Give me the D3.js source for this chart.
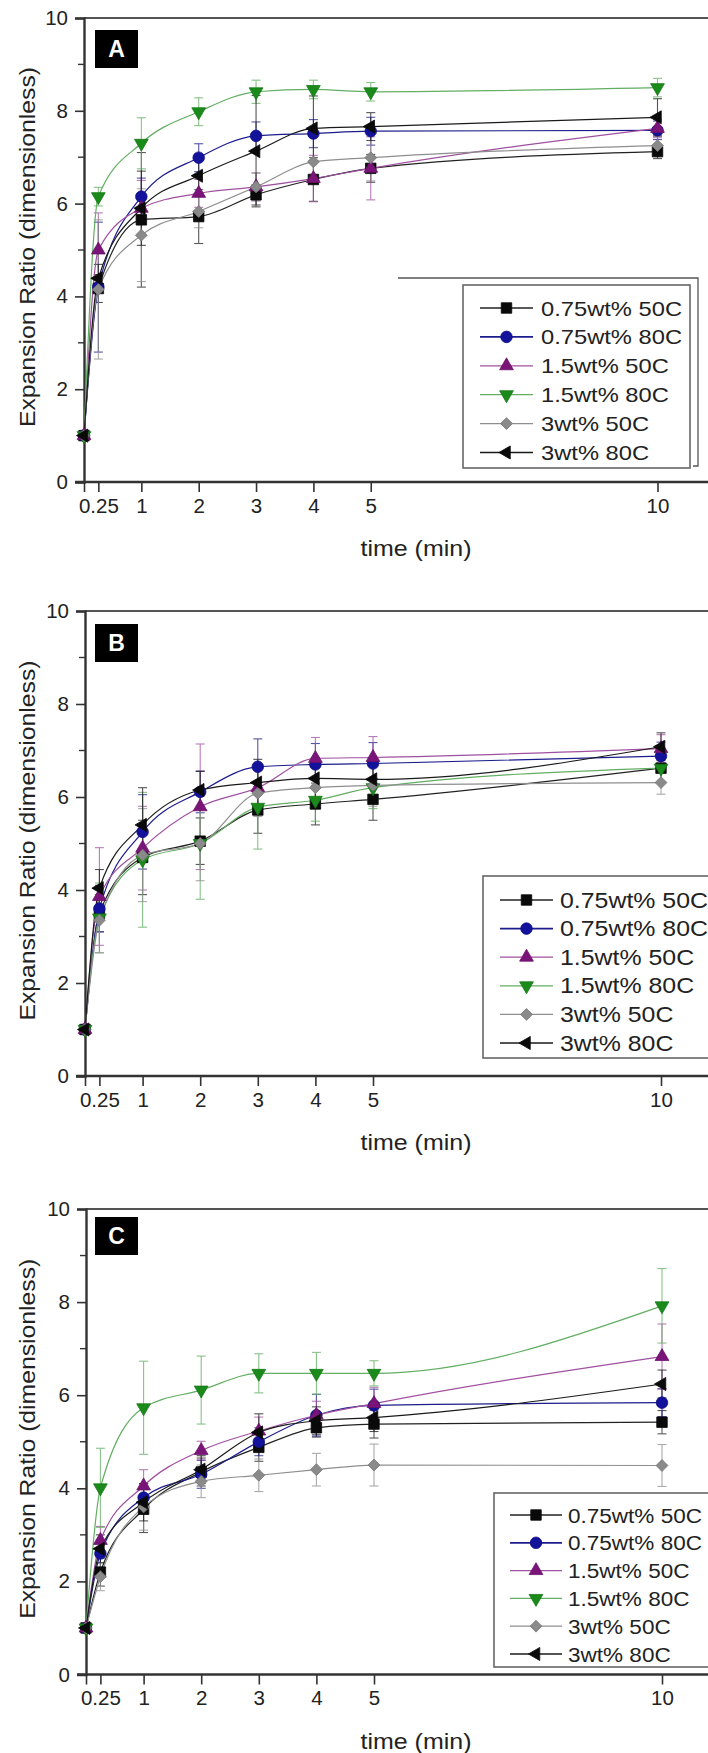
<!DOCTYPE html>
<html>
<head>
<meta charset="utf-8">
<script src="https://cdn.jsdelivr.net/npm/d3@7"></script>
<style>
  html, body { margin: 0; padding: 0; background: #fff; }
  svg { display: block; }
  text { font-family: "Liberation Sans", Arial, sans-serif; fill: #222; }
</style>
</head>
<body>
<svg id="fig" width="708" height="1753"></svg>
<script>
// ---- shared axes / labels ----
const times = [0, 0.25, 1, 2, 3, 4, 5, 10];
const seriesNames = ["0.75wt% 50C", "0.75wt% 80C", "1.5wt% 50C", "1.5wt% 80C", "3wt% 50C", "3wt% 80C"];
const xTickValues = [0, 0.25, 1, 2, 3, 4, 5, 10];
const xTickLabels = ["", "0.25", "1", "2", "3", "4", "5", "10"];
const yTickValues = [0, 2, 4, 6, 8, 10];
const yTickLabels = ["0", "2", "4", "6", "8", "10"];
const yMinorValues = [1, 3, 5, 7, 9];
const panelLetters = ["A", "B", "C"];
const xTitle = "time (min)";
const yTitle = "Expansion Ratio (dimensionless)";

// ---- panel A: mean expansion ratio and error ----
const A_075_50 = [1, 4.17, 5.65, 5.72, 6.19, 6.52, 6.76, 7.12];
const A_075_80 = [1, 4.2, 6.15, 6.99, 7.46, 7.51, 7.56, 7.58];
const A_15_50  = [1, 5.0, 5.9, 6.22, 6.36, 6.54, 6.76, 7.62];
const A_15_80  = [1, 6.15, 7.3, 7.98, 8.41, 8.46, 8.41, 8.5];
const A_3_50   = [1, 4.15, 5.32, 5.83, 6.36, 6.9, 6.99, 7.25];
const A_3_80   = [1, 4.39, 5.9, 6.6, 7.13, 7.62, 7.66, 7.86];
const A_075_50_err = [0, 0.3, 1.45, 0.58, 0.22, 0.47, 0.3, 0.15];
const A_075_80_err = [0, 1.4, 0.4, 0.3, 0.3, 0.3, 0.3, 0.2];
const A_15_50_err  = [0, 0.8, 0.6, 0.3, 0.3, 0.5, 0.68, 0.2];
const A_15_80_err  = [0, 0.2, 0.55, 0.3, 0.25, 0.2, 0.2, 0.2];
const A_3_50_err   = [0, 1.5, 1.0, 0.35, 0.3, 0.3, 0.5, 0.2];
const A_3_80_err   = [0, 0.3, 0.8, 0.4, 1.2, 0.7, 0.3, 0.4];

// ---- panel B ----
const B_075_50 = [1, 3.5, 4.7, 5.05, 5.72, 5.85, 5.95, 6.62];
const B_075_80 = [1, 3.6, 5.25, 6.11, 6.65, 6.7, 6.72, 6.88];
const B_15_50  = [1, 3.86, 4.9, 5.79, 6.2, 6.83, 6.85, 7.04];
const B_15_80  = [1, 3.4, 4.65, 5.0, 5.78, 5.93, 6.2, 6.62];
const B_3_50   = [1, 3.35, 4.75, 5.0, 6.08, 6.2, 6.25, 6.31];
const B_3_80   = [1, 4.04, 5.4, 6.15, 6.31, 6.4, 6.38, 7.08];
const B_075_50_err = [0, 0.4, 0.8, 0.5, 0.5, 0.45, 0.45, 0.3];
const B_075_80_err = [0, 0.5, 0.8, 0.45, 0.6, 0.45, 0.45, 0.3];
const B_15_50_err  = [0, 1.05, 0.9, 1.35, 0.5, 0.45, 0.45, 0.3];
const B_15_80_err  = [0, 0.75, 1.45, 1.2, 0.9, 0.45, 0.45, 0.3];
const B_3_50_err   = [0, 0.7, 1.0, 0.8, 0.5, 0.45, 0.45, 0.25];
const B_3_80_err   = [0, 0.4, 0.8, 0.4, 0.5, 0.45, 0.45, 0.3];

// ---- panel C ----
const C_075_50 = [1, 2.2, 3.55, 4.35, 4.88, 5.3, 5.38, 5.42];
const C_075_80 = [1, 2.6, 3.8, 4.3, 5.0, 5.57, 5.78, 5.84];
const C_15_50  = [1, 2.88, 4.05, 4.81, 5.23, 5.57, 5.82, 6.83];
const C_15_80  = [1, 4.01, 5.73, 6.11, 6.47, 6.47, 6.47, 7.92];
const C_3_50   = [1, 2.1, 3.6, 4.15, 4.28, 4.4, 4.5, 4.49];
const C_3_80   = [1, 2.7, 3.7, 4.4, 5.2, 5.45, 5.52, 6.24];
const C_075_50_err = [0, 0.3, 0.5, 0.3, 0.3, 0.2, 0.3, 0.25];
const C_075_80_err = [0, 0.3, 0.3, 0.3, 0.3, 0.45, 0.35, 0.3];
const C_15_50_err  = [0, 0.3, 0.35, 0.2, 0.3, 0.3, 0.35, 0.7];
const C_15_80_err  = [0, 0.85, 1.0, 0.73, 0.42, 0.45, 0.27, 0.8];
const C_3_50_err   = [0, 0.3, 0.5, 0.35, 0.35, 0.35, 0.45, 0.45];
const C_3_80_err   = [0, 0.3, 0.4, 0.3, 0.4, 0.3, 0.3, 0.3];

// ---- series styling (legend order) ----
const markerShapes = ["square", "circle", "up", "down", "diamond", "left"];
const markerColors = ["#0a0a0a", "#12129a", "#7a1478", "#1a8a1a", "#8a8a8a", "#0a0a0a"];
const lineColors   = ["#222222", "#1c1c8c", "#a050a0", "#62ae62", "#8e8e8e", "#1a1a1a"];

const panelValues = [
  [A_075_50, A_075_80, A_15_50, A_15_80, A_3_50, A_3_80],
  [B_075_50, B_075_80, B_15_50, B_15_80, B_3_50, B_3_80],
  [C_075_50, C_075_80, C_15_50, C_15_80, C_3_50, C_3_80]
];
const panelErrors = [
  [A_075_50_err, A_075_80_err, A_15_50_err, A_15_80_err, A_3_50_err, A_3_80_err],
  [B_075_50_err, B_075_80_err, B_15_50_err, B_15_80_err, B_3_50_err, B_3_80_err],
  [C_075_50_err, C_075_80_err, C_15_50_err, C_15_80_err, C_3_50_err, C_3_80_err]
];

// ---- panel geometry ----
const layout = [
  { left: 84, top: 18,   bottom: 482,    unit: 57.35, box: [95, 30],
    legend: { x: 463, y: 285, w: 227, h: 183, row0: 308, dy: 28.9, lx0: 480, lx1: 533, tx: 541, fs: 21, tw: 141 },
    outerFrame: true },
  { left: 85, top: 611,  bottom: 1076,   unit: 57.6, box: [95, 624],
    legend: { x: 483, y: 876, w: 240, h: 182, row0: 900, dy: 28.6, lx0: 500, lx1: 553, tx: 560, fs: 21.5, tw: 148 } },
  { left: 86, top: 1209, bottom: 1674.5, unit: 57.6, box: [95, 1217],
    legend: { x: 494, y: 1493, w: 230, h: 174, row0: 1515, dy: 27.8, lx0: 510, lx1: 562, tx: 568, fs: 20.5, tw: 134 } }
];

const svg = d3.select("#fig");
svg.append("rect").attr("width", 708).attr("height", 1753).attr("fill", "#fff");

function markerPath(shape) {
  switch (shape) {
    case "square":  return { d: d3.symbol(d3.symbolSquare, 110)(), rot: 0 };
    case "circle":  return { d: d3.symbol(d3.symbolCircle, 105)(), rot: 0 };
    case "up":      return { d: d3.symbol(d3.symbolTriangle, 82)(), rot: 0 };
    case "down":    return { d: d3.symbol(d3.symbolTriangle, 82)(), rot: 180 };
    case "diamond": return { d: d3.symbol(d3.symbolSquare, 70)(), rot: 45 };
    case "left":    return { d: d3.symbol(d3.symbolTriangle, 74)(), rot: -90 };
  }
}

function drawMarker(g, shape, cx, cy, color) {
  const m = markerPath(shape);
  g.append("path")
    .attr("d", m.d)
    .attr("transform", `translate(${cx},${cy}) rotate(${m.rot})`)
    .attr("fill", color)
    .attr("stroke", d3.color(color).darker(0.4))
    .attr("stroke-width", 0.8);
}

layout.forEach((L, p) => {
  const g = svg.append("g");
  const x = d3.scaleLinear().domain([0, 1]).range([L.left, L.left + L.unit]);
  const y = d3.scaleLinear().domain([0, 10]).range([L.bottom, L.top]);

  // frame: top edge and the axes
  g.append("line").attr("x1", L.left).attr("x2", 708).attr("y1", L.top).attr("y2", L.top)
    .attr("stroke", "#555").attr("stroke-width", 2);

  // y axis
  const yAxis = d3.axisLeft(y).tickValues(yTickValues)
    .tickFormat((d, i) => yTickLabels[i]).tickSize(9).tickPadding(7);
  const yg = g.append("g").attr("transform", `translate(${L.left},0)`).call(yAxis);
  yg.select(".domain").attr("stroke", "#333").attr("stroke-width", 2.4);
  yg.selectAll(".tick line").attr("stroke", "#333").attr("stroke-width", 1.6);
  yg.selectAll(".tick text").attr("font-size", 20.5).attr("fill", "#222")
    .attr("font-family", "'Liberation Sans', Arial, sans-serif");
  g.append("g").selectAll("line").data(yMinorValues).join("line")
    .attr("x1", L.left - 6).attr("x2", L.left).attr("y1", d => y(d)).attr("y2", d => y(d))
    .attr("stroke", "#333").attr("stroke-width", 1.4);

  // x axis
  const xAxis = d3.axisBottom(x).tickValues(xTickValues)
    .tickFormat((d, i) => xTickLabels[i]).tickSize(10).tickPadding(6);
  const xg = g.append("g").attr("transform", `translate(0,${L.bottom})`).call(xAxis);
  xg.select(".domain").remove();
  xg.selectAll(".tick line").attr("stroke", "#333").attr("stroke-width", 1.6);
  xg.selectAll(".tick text").attr("font-size", 20.5).attr("fill", "#222")
    .attr("font-family", "'Liberation Sans', Arial, sans-serif");
  g.append("line").attr("x1", L.left - 9).attr("x2", 708).attr("y1", L.bottom).attr("y2", L.bottom)
    .attr("stroke", "#333").attr("stroke-width", 2.4);

  // axis titles
  g.append("text").text(xTitle)
    .attr("x", 416).attr("y", L.bottom + 74)
    .attr("text-anchor", "middle").attr("font-size", 22)
    .attr("textLength", 111).attr("lengthAdjust", "spacingAndGlyphs");
  const ymid = (L.top + L.bottom) / 2 - 3;
  g.append("text").text(yTitle)
    .attr("transform", `translate(35,${ymid}) rotate(-90)`)
    .attr("text-anchor", "middle").attr("font-size", 21.5).attr("fill", "#333")
    .attr("textLength", 360).attr("lengthAdjust", "spacingAndGlyphs");

  // extra bracket line above the legend in panel A
  if (L.outerFrame) {
    g.append("path").attr("d", "M398,278 H698 V466 H693")
      .attr("fill", "none").attr("stroke", "#555").attr("stroke-width", 1.3);
  }

  const vals = panelValues[p];
  const errs = panelErrors[p];

  // error bars
  vals.forEach((s, k) => {
    const eg = g.append("g").attr("stroke", lineColors[k]).attr("stroke-width", 1.1).attr("opacity", 0.75);
    s.forEach((v, i) => {
      const e = errs[k][i];
      if (!e) return;
      const cx = x(times[i]);
      eg.append("line").attr("x1", cx).attr("x2", cx).attr("y1", y(v - e)).attr("y2", y(v + e));
      eg.append("line").attr("x1", cx - 4.5).attr("x2", cx + 4.5).attr("y1", y(v - e)).attr("y2", y(v - e));
      eg.append("line").attr("x1", cx - 4.5).attr("x2", cx + 4.5).attr("y1", y(v + e)).attr("y2", y(v + e));
    });
  });

  // connecting curves
  const line = d3.line().x((d, i) => x(times[i])).y(d => y(d)).curve(d3.curveMonotoneX);
  vals.forEach((s, k) => {
    g.append("path").attr("d", line(s)).attr("fill", "none")
      .attr("stroke", lineColors[k]).attr("stroke-width", 1.2);
  });

  // markers
  vals.forEach((s, k) => {
    const mg = g.append("g");
    s.forEach((v, i) => drawMarker(mg, markerShapes[k], x(times[i]), y(v), markerColors[k]));
  });

  // panel letter
  g.append("rect").attr("x", L.box[0]).attr("y", L.box[1]).attr("width", 43).attr("height", 38).attr("fill", "#000");
  g.append("text").text(panelLetters[p])
    .attr("x", L.box[0] + 21.5).attr("y", L.box[1] + 27)
    .attr("text-anchor", "middle").attr("font-size", 23).attr("font-weight", "bold")
    .attr("font-family", "'Open Sans', 'Noto Sans', sans-serif").style("fill", "#fff");

  // legend
  const Lg = L.legend;
  const lg = g.append("g");
  lg.append("rect").attr("x", Lg.x).attr("y", Lg.y).attr("width", Lg.w).attr("height", Lg.h)
    .attr("fill", "#fff").attr("stroke", "#666").attr("stroke-width", 1.6);
  let scaleX = 1;
  seriesNames.forEach((name, k) => {
    const ry = Lg.row0 + k * Lg.dy;
    lg.append("line").attr("x1", Lg.lx0).attr("x2", Lg.lx1).attr("y1", ry).attr("y2", ry)
      .attr("stroke", lineColors[k]).attr("stroke-width", k === 1 ? 1.8 : 1.3);
    drawMarker(lg, markerShapes[k], (Lg.lx0 + Lg.lx1) / 2, ry, markerColors[k]);
    const t = lg.append("text").text(name).attr("x", Lg.tx).attr("y", ry + 7.5)
      .attr("font-size", Lg.fs).attr("fill", "#222");
    const natural = t.node().getComputedTextLength();
    if (k === 0) scaleX = Lg.tw / natural;
    t.attr("textLength", natural * scaleX).attr("lengthAdjust", "spacingAndGlyphs");
  });
});
</script>
</body>
</html>
